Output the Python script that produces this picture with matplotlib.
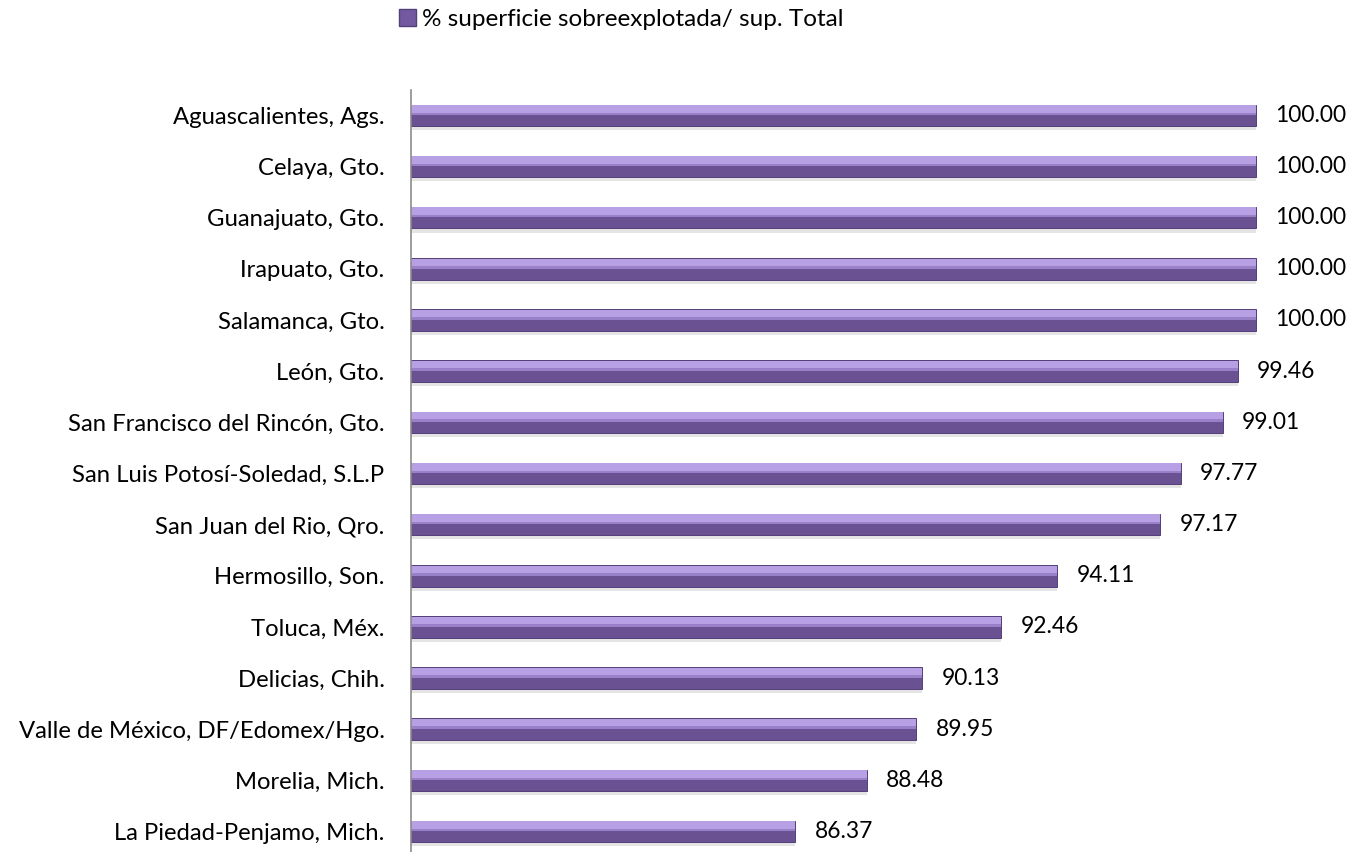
import matplotlib.pyplot as plt
from matplotlib.patches import Patch

# Datos
ciudades = ['Aguascalientes, Ags.', 'Celaya, Gto.', 'Guanajuato, Gto.', 'Irapuato, Gto.',
            'Salamanca, Gto.', 'León, Gto.', 'San Francisco del Rincón, Gto.',
            'San Luis Potosí-Soledad, S.L.P', 'San Juan del Rio, Qro.', 'Hermosillo, Son.',
            'Toluca, Méx.', 'Delicias, Chih.', 'Valle de México, DF/Edomex/Hgo.',
            'Morelia, Mich.', 'La Piedad-Penjamo, Mich.']
porcentaje = [100.00, 100.00, 100.00, 100.00, 100.00, 99.46, 99.01, 97.77, 97.17,
              94.11, 92.46, 90.13, 89.95, 88.48, 86.37]
serie = '% superficie sobreexplotada/ sup. Total'

plt.rcParams['font.family'] = ['Lato', 'DejaVu Sans']
fs = 17.2

fig = plt.figure(figsize=(13.59, 8.52), dpi=100)
ax = fig.add_axes([0.3024, -0.003, 0.684, 0.897])

pos = list(range(len(ciudades)))
base = 75
largo = [v - base for v in porcentaje]

# sombra, barra principal y brillo superior
ax.barh([p + 0.25 for p in pos], largo, left=base, height=0.08, color='#e4e4e4', linewidth=0)
ax.barh(pos, largo, left=base, height=0.42, color='#6a5192', edgecolor='#54407a', linewidth=0.7)
ax.barh([p - 0.125 for p in pos], largo, left=base, height=0.15, color='#b8a0e4', linewidth=0)
ax.barh([p - 0.03 for p in pos], largo, left=base, height=0.05, color='#9980c9', linewidth=0)

for p, v in zip(pos, porcentaje):
    ax.annotate(f'{v:.2f}', (v, p), xytext=(14, 0), textcoords='offset points',
                va='center', ha='left', fontsize=16.4)

ax.set_xlim(base, 102.5)
ax.set_ylim(14.45, -0.49)
ax.set_yticks(pos)
ax.set_yticklabels(ciudades, fontsize=fs)
ax.tick_params(axis='y', length=0, pad=19)
ax.set_xticks([])
for s in ['top', 'right', 'bottom']:
    ax.spines[s].set_visible(False)
ax.spines['left'].set_color('#8c8c8c')
ax.spines['left'].set_linewidth(1.2)

fig.legend(handles=[Patch(facecolor='#7359a0', edgecolor='#54407a')], labels=[serie],
           loc='center left', bbox_to_anchor=(0.281, 0.977), frameon=False, fontsize=17.5,
           handlelength=0.7, handleheight=0.7, handletextpad=0.25, borderpad=0.2)

fig.savefig('out.png', dpi=100)
